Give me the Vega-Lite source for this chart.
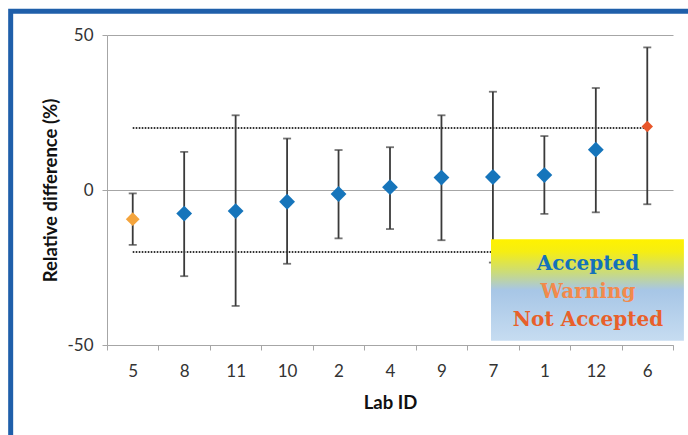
{
  "$schema": "https://vega.github.io/schema/vega-lite/v6.json",
  "autosize": {"type": "none"},
  "width": 566,
  "height": 310,
  "padding": {"left": 107, "top": 35, "right": 15, "bottom": 90},
  "background": "white",
  "config": {"view": {"stroke": null}, "font": "Lato"},
  "datasets": {
    "labs": [
      {"lab": "5", "value": -9.4, "lo": -17.7, "hi": -1.1, "status": "Warning"},
      {"lab": "8", "value": -7.6, "lo": -27.8, "hi": 12.3, "status": "Accepted"},
      {"lab": "11", "value": -6.8, "lo": -37.4, "hi": 24.1, "status": "Accepted"},
      {"lab": "10", "value": -3.8, "lo": -23.8, "hi": 16.6, "status": "Accepted"},
      {"lab": "2", "value": -1.3, "lo": -15.6, "hi": 12.9, "status": "Accepted"},
      {"lab": "4", "value": 0.9, "lo": -12.6, "hi": 13.8, "status": "Accepted"},
      {"lab": "9", "value": 4.0, "lo": -16.2, "hi": 24.1, "status": "Accepted"},
      {"lab": "7", "value": 4.2, "lo": -23.4, "hi": 31.7, "status": "Accepted"},
      {"lab": "1", "value": 4.8, "lo": -7.7, "hi": 17.4, "status": "Accepted"},
      {"lab": "12", "value": 13.0, "lo": -7.2, "hi": 32.9, "status": "Accepted"},
      {"lab": "6", "value": 20.5, "lo": -4.6, "hi": 46.0, "status": "Not Accepted"}
    ],
    "legendbox": [{"item": "legend"}]
  },
  "layer": [
    {
      "data": {"name": "labs"},
      "encoding": {
        "x": {
          "field": "lab",
          "type": "nominal",
          "sort": null,
          "scale": {"type": "band", "paddingInner": 0, "paddingOuter": 0},
          "axis": {
            "title": "Lab ID",
            "labelAngle": 0,
            "tickBand": "extent",
            "domainColor": "#A6A6A6",
            "tickColor": "#A6A6A6",
            "tickSize": 5,
            "labelFontSize": 17,
            "labelColor": "#333333",
            "labelPadding": 13,
            "titleFontSize": 18.5,
            "titleFontWeight": "bold",
            "titleColor": "#111111",
            "titlePadding": 14
          }
        }
      },
      "layer": [
        {
          "mark": {"type": "line", "color": "#333333", "strokeWidth": 2, "strokeDash": [1.6, 1.4]},
          "encoding": {
            "y": {
              "datum": 20,
              "type": "quantitative",
              "scale": {"domain": [-50, 50], "nice": false, "zero": false},
              "axis": {
                "title": "Relative difference (%)",
                "values": [-50, 0, 50],
                "labelExpr": "replace(datum.label, '\u2212', '-')",
                "grid": true,
                "gridColor": "#A6A6A6",
                "domainColor": "#A6A6A6",
                "tickColor": "#A6A6A6",
                "tickSize": 5,
                "labelFontSize": 17,
                "labelColor": "#333333",
                "labelPadding": 9,
                "titleFontSize": 18.5,
                "titleFontWeight": "bold",
                "titleColor": "#111111",
                "titlePadding": 6
              }
            }
          }
        },
        {
          "mark": {"type": "line", "color": "#333333", "strokeWidth": 2, "strokeDash": [1.6, 1.4]},
          "encoding": {"y": {"datum": -20, "type": "quantitative"}}
        },
        {
          "mark": {"type": "rule", "color": "#3A3A3A", "strokeWidth": 1.8},
          "encoding": {
            "y": {"field": "lo", "type": "quantitative"},
            "y2": {"field": "hi"}
          }
        },
        {
          "mark": {"type": "tick", "color": "#3A3A3A", "thickness": 1.8, "size": 8, "orient": "horizontal"},
          "encoding": {"y": {"field": "lo", "type": "quantitative"}}
        },
        {
          "mark": {"type": "tick", "color": "#3A3A3A", "thickness": 1.8, "size": 8, "orient": "horizontal"},
          "encoding": {"y": {"field": "hi", "type": "quantitative"}}
        },
        {
          "mark": {"type": "point", "shape": "diamond", "filled": true, "opacity": 1},
          "encoding": {
            "y": {"field": "value", "type": "quantitative"},
            "color": {
              "field": "status",
              "type": "nominal",
              "scale": {"domain": ["Accepted", "Warning", "Not Accepted"], "range": ["#1675BB", "#F4A43C", "#E8562A"]},
              "legend": null
            },
            "size": {
              "field": "status",
              "type": "nominal",
              "scale": {"domain": ["Accepted", "Warning", "Not Accepted"], "range": [250, 130, 160]},
              "legend": null
            }
          }
        }
      ]
    },
    {
      "data": {"name": "legendbox"},
      "layer": [
        {
          "mark": {
            "type": "rect",
            "color": {
              "gradient": "linear",
              "x1": 0, "y1": 0, "x2": 0, "y2": 1,
              "stops": [
                {"offset": 0, "color": "#FFF200"},
                {"offset": 0.12, "color": "#F6EE12"},
                {"offset": 0.33, "color": "#CADB7C"},
                {"offset": 0.5, "color": "#A7C6E6"},
                {"offset": 1, "color": "#C6DCF1"}
              ]
            }
          },
          "encoding": {
            "x": {"datum": 7.463, "type": "quantitative", "scale": {"domain": [0, 11], "nice": false, "zero": false}, "axis": null},
            "x2": {"datum": 11.212},
            "y": {"datum": -15.9, "type": "quantitative", "scale": {"domain": [-50, 50], "nice": false, "zero": false}, "axis": null},
            "y2": {"datum": -48.6}
          }
        },
        {
          "mark": {"type": "text", "text": "Accepted", "font": "DejaVu Serif", "fontWeight": "bold", "fontSize": 20, "color": "#1471BA", "baseline": "middle", "align": "center"},
          "encoding": {
            "x": {"datum": 9.348, "type": "quantitative"},
            "y": {"datum": -23.9, "type": "quantitative"}
          }
        },
        {
          "mark": {"type": "text", "text": "Warning", "font": "DejaVu Serif", "fontWeight": "bold", "fontSize": 20, "color": "#F28A4C", "baseline": "middle", "align": "center"},
          "encoding": {
            "x": {"datum": 9.348, "type": "quantitative"},
            "y": {"datum": -32.8, "type": "quantitative"}
          }
        },
        {
          "mark": {"type": "text", "text": "Not Accepted", "font": "DejaVu Serif", "fontWeight": "bold", "fontSize": 20, "color": "#E8602A", "baseline": "middle", "align": "center"},
          "encoding": {
            "x": {"datum": 9.348, "type": "quantitative"},
            "y": {"datum": -41.8, "type": "quantitative"}
          }
        },
        {
          "mark": {"type": "rect", "fill": null, "stroke": "#1F5FAA", "strokeWidth": 5},
          "encoding": {
            "x": {"datum": -1.872, "type": "quantitative"},
            "x2": {"datum": 11.95},
            "y": {"datum": 57.68, "type": "quantitative"},
            "y2": {"datum": -87}
          }
        }
      ]
    }
  ],
  "resolve": {"scale": {"x": "independent", "y": "independent"}}
}
